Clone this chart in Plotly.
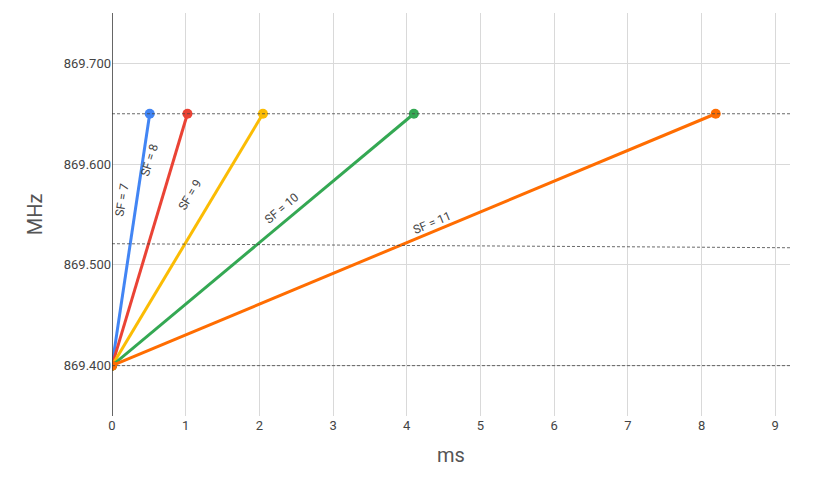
import plotly.graph_objects as go

# Sweep duration (ms) per spreading factor, frequency from 869.400 to 869.650 MHz
labels = ["SF = 7", "SF = 8", "SF = 9", "SF = 10", "SF = 11"]
end_ms = [0.512, 1.024, 2.048, 4.096, 8.192]
f_start = 869.400
f_end = 869.650
colors = ["#4285F4", "#EA4335", "#FBBC04", "#34A853", "#FF6D01"]

# label anchor points (ms, MHz) and rotation
label_x = [0.14, 0.51, 1.06, 2.31, 4.34]
label_y = [869.564, 869.604, 869.569, 869.556, 869.542]
label_angle = [-81, -73, -59, -40, -22.5]

# dashed reference lines
ref_y_left = [869.650, 869.521, 869.400]
ref_y_right = [869.650, 869.517, 869.400]

fig = go.Figure()

for yl, yr in zip(ref_y_left, ref_y_right):
    fig.add_shape(type="line", xref="x", yref="y", x0=0, x1=9.2, y0=yl, y1=yr,
                  line=dict(color="#444", width=0.8, dash="3px,2px"))

for name, x1, c in zip(labels, end_ms, colors):
    fig.add_trace(go.Scatter(
        x=[0, x1], y=[f_start, f_end], mode="lines+markers", name=name,
        line=dict(color=c, width=3), marker=dict(size=10, color=c),
        showlegend=False))

for t, x, y, a in zip(labels, label_x, label_y, label_angle):
    fig.add_annotation(x=x, y=y, text=t, textangle=a, showarrow=False,
                       font=dict(size=12, color="#444"))

fig.update_layout(
    width=823, height=486,
    margin=dict(l=104, r=41, t=5, b=78),
    plot_bgcolor="white", paper_bgcolor="white",
    font=dict(family="Roboto, Arial", color="#444"),
)
fig.update_xaxes(range=[0, 9.2], dtick=1, showgrid=True, gridcolor="#d9d9d9",
                 zeroline=False, showline=False, ticks="",
                 title=dict(text="ms", font=dict(size=20, color="#555")),
                 tickfont=dict(size=13, color="#444"))
fig.update_yaxes(range=[869.35, 869.75], dtick=0.1, tickformat=".3f",
                 showgrid=True, gridcolor="#d9d9d9", zeroline=False,
                 title=dict(text="MHz", font=dict(size=20, color="#555")),
                 tickfont=dict(size=13, color="#444"))
fig.add_shape(type="line", xref="x", yref="paper", x0=0, x1=0, y0=0, y1=1,
              line=dict(color="#333", width=1.5))

fig.write_html("out.html")
